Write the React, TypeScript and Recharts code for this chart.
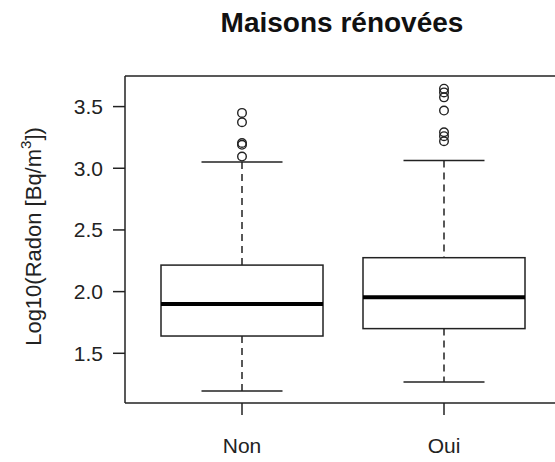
import React from 'react'
import { ComposedChart, Bar, Scatter, XAxis, YAxis, Label, ReferenceLine } from 'recharts'

// boxplot stats
const categories = ['Non', 'Oui']
const lowerWhisker = [1.195, 1.268]
const firstQuartile = [1.64, 1.70]
const medians = [1.9, 1.955]
const thirdQuartile = [2.215, 2.275]
const upperWhisker = [3.05, 3.063]
const outliersNon = [3.095, 3.19, 3.205, 3.373, 3.449]
const outliersOui = [3.219, 3.26, 3.292, 3.468, 3.575, 3.615, 3.645]
const yTicks = [1.5, 2.0, 2.5, 3.0, 3.5]
const yDomain = [1.097, 3.748]

const boxes = categories.map((name, i) => ({
  name,
  lo: lowerWhisker[i],
  q1: firstQuartile[i],
  med: medians[i],
  q3: thirdQuartile[i],
  hi: upperWhisker[i]
}))

const outliers = [
  ...outliersNon.map(v => ({ name: 'Non', v })),
  ...outliersOui.map(v => ({ name: 'Oui', v }))
]

const ink = '#222'

function BoxShape(props: any) {
  const { x, y, width, height, payload } = props
  const { lo, q1, med, q3, hi } = payload
  const k = height / (hi - lo)
  const py = (v: number) => y + (hi - v) * k
  const cx = x + width / 2
  const cap = width / 4
  return (
    <g>
      <line x1={cx} x2={cx} y1={py(hi)} y2={py(q3)} stroke={ink} strokeWidth={1.5} strokeDasharray="7 5" />
      <line x1={cx} x2={cx} y1={py(q1)} y2={py(lo)} stroke={ink} strokeWidth={1.5} strokeDasharray="7 5" />
      <line x1={cx - cap} x2={cx + cap} y1={py(hi)} y2={py(hi)} stroke={ink} strokeWidth={1.5} />
      <line x1={cx - cap} x2={cx + cap} y1={py(lo)} y2={py(lo)} stroke={ink} strokeWidth={1.5} />
      <rect x={x} y={py(q3)} width={width} height={py(q1) - py(q3)} fill="#fff" stroke={ink} strokeWidth={1.5} />
      <line x1={x} x2={x + width} y1={py(med)} y2={py(med)} stroke="#000" strokeWidth={4} />
    </g>
  )
}

function Ring(props: any) {
  return <circle cx={props.cx} cy={props.cy} r={4.3} fill="none" stroke={ink} strokeWidth={1.4} />
}

function YLabel(props: any) {
  const vb = props.viewBox
  const cx = vb.x + 33
  const cy = vb.y + vb.height / 2 - 3
  return (
    <text x={cx} y={cy} transform={`rotate(-90 ${cx} ${cy})`} textAnchor="middle" dominantBaseline="central"
      fontSize={22} fill={ink} fontFamily="Liberation Sans, Arial, sans-serif">
      Log10(Radon [Bq/m<tspan dy={-8} fontSize={15}>3</tspan><tspan dy={8}>])</tspan>
    </text>
  )
}

export default function App() {
  const font = 'Liberation Sans, Arial, sans-serif'
  return (
    <div style={{ position: 'absolute', left: 0, top: 0, width: 555, height: 462, overflow: 'hidden', background: '#fff' }}>
      <div style={{ position: 'absolute', left: 0, top: 9, width: 684, textAlign: 'center', fontFamily: font, fontWeight: 'bold', fontSize: 28, lineHeight: '28px', color: '#111' }}>
        Maisons rénovées
      </div>
      <ComposedChart width={575} height={462} data={boxes} margin={{ top: 76, right: 14, bottom: 0, left: 0 }}>
        <XAxis dataKey="name" type="category" allowDuplicatedCategory={false} padding={{ left: 16, right: 16 }}
          height={59} tickSize={12} tickMargin={23} stroke={ink} strokeWidth={1.5}
          tick={{ fontSize: 21, fill: ink, fontFamily: font }} />
        <YAxis type="number" domain={yDomain} ticks={yTicks} width={125} tickSize={12} tickMargin={10}
          tickFormatter={(v: number) => v.toFixed(1)} stroke={ink} strokeWidth={1.5} allowDataOverflow
          tick={{ fontSize: 21, fill: ink, fontFamily: font }}>
          <Label content={<YLabel />} />
        </YAxis>
        <ReferenceLine y={yDomain[1]} stroke={ink} strokeWidth={1.5} />
        <Bar dataKey={(d: any) => [d.lo, d.hi]} barSize={162} shape={<BoxShape />} isAnimationActive={false} />
        <Scatter data={outliers} dataKey="v" shape={<Ring />} isAnimationActive={false} />
      </ComposedChart>
    </div>
  )
}
